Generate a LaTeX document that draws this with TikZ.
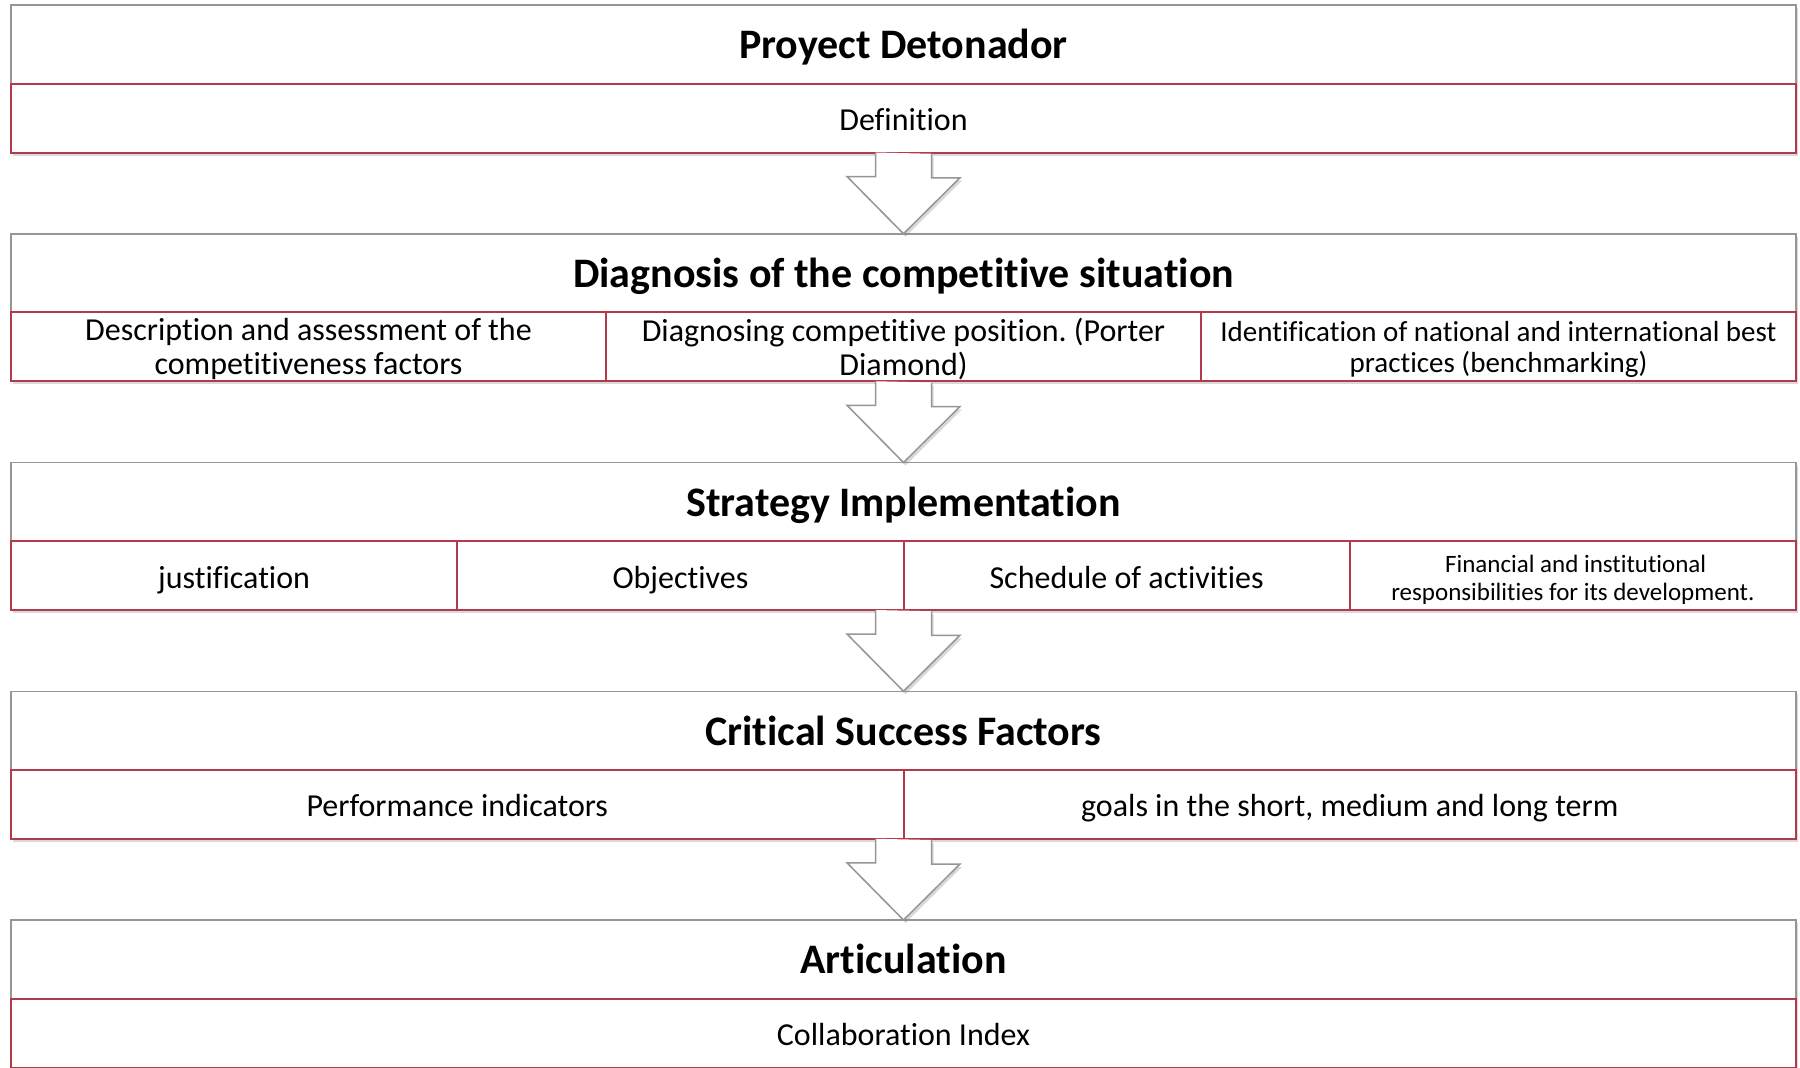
\documentclass[tikz,border=0pt]{standalone}
\usepackage{fontspec}
\setmainfont[RawFeature={-liga;-clig;-dlig;-calt}]{Carlito}
\frenchspacing
\usetikzlibrary{positioning,calc,shadows}
\definecolor{rowred}{RGB}{178,58,74}
\definecolor{framegray}{RGB}{150,150,150}
\newcommand{\toppad}[1][0.85em]{\rule{0pt}{#1}}
\tikzset{
  softshadow/.style = {drop shadow={opacity=0.3, shadow xshift=2pt, shadow yshift=-3pt}},
  title/.style = {draw=framegray, line width=1.5pt, fill=white, softshadow, anchor=north west,
    minimum width=1785pt, minimum height=78.5pt, inner sep=0pt, outer sep=0pt,
    font=\fontsize{42}{46}\selectfont\bfseries, text height=32pt, text depth=3pt},
  item/.style = {draw=rowred, line width=2pt, fill=white, softshadow, anchor=north west,
    minimum height=69pt, inner sep=0pt, outer sep=0pt, align=center,
    font=\fontsize{32}{34}\selectfont},
  single/.style = {text height=28pt, text depth=3pt},
  downarrow/.style = {draw=framegray, line width=1.5pt, line join=miter}
}
\begin{document}
\begin{tikzpicture}[x=1pt,y=-1pt]
\useasboundingbox (0,0) rectangle (1800,1068);

% Proyect
\node[title] (t1) at (11,5) {Proyect Detonador};
\node[item, single, minimum width=1785pt, below=0pt of t1] (r1) {Definition};

% Diagnosis
\node[title] (t2) at (11,233.75) {Diagnosis of the competitive situation};
\node[item, minimum width=595pt] (r2) at (t2.south west) {\toppad Description and assessment of the\\competitiveness factors};
\node[item, minimum width=595pt, right=0pt of r2] (r2b) {\toppad Diagnosing competitive position. (Porter\\Diamond)};
\node[item, minimum width=595pt, right=0pt of r2b, font=\fontsize{29}{31}\selectfont] (r2c) {\toppad Identification of national and international best\\practices (benchmarking)};

% Strategy
\node[title] (t3) at (11,462.5) {Strategy Implementation};
\node[item, single, minimum width=446.25pt] (r3) at (t3.south west) {justification};
\node[item, single, minimum width=446.25pt, right=0pt of r3] (r3b) {Objectives};
\node[item, single, minimum width=446.25pt, right=0pt of r3b] (r3c) {Schedule of activities};
\node[item, minimum width=446.25pt, right=0pt of r3c, font=\fontsize{25}{28}\selectfont] (r3d) {\toppad[1.05em] Financial and institutional\\responsibilities for its development.};

% Critical
\node[title] (t4) at (11,691.25) {Critical Success Factors};
\node[item, single, minimum width=892.5pt] (r4) at (t4.south west) {Performance indicators};
\node[item, single, minimum width=892.5pt, right=0pt of r4] (r4b) {goals in the short, medium and long term};

% Articulation
\node[title] (t5) at (11,920) {Articulation};
\node[item, single, minimum width=1785pt, below=0pt of t5] (r5) {Collaboration Index};

% block arrows between the stages
\foreach \a/\b in {1/2,2/3,3/4,4/5}{
  \path[fill=white, softshadow] ($(t\a.south |- r\a.south)+(-28,0)$) -- ++(0,24) -- ++(-28.5,0)
    -- (t\b.north) -- ++(56.5,-56) -- ++(-28.5,0) -- ++(0,-24) -- cycle;
  \draw[downarrow] ($(t\a.south |- r\a.south)+(-28,0)$) -- ++(0,24) -- ++(-28.5,0)
    -- (t\b.north) -- ++(56.5,-56) -- ++(-28.5,0) -- ++(0,-24);
}
\end{tikzpicture}
\end{document}
